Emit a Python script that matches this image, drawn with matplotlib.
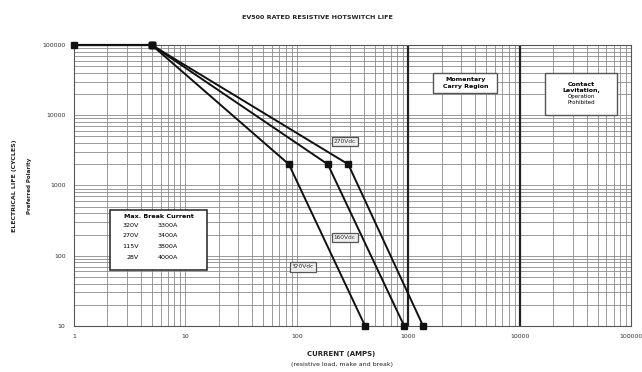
import matplotlib
matplotlib.use("Agg")
import matplotlib.pyplot as plt
from matplotlib.patches import Rectangle
from matplotlib.ticker import LogLocator, FixedLocator, NullFormatter

# data
flat_amps = [1, 5]
flat_cycles = [100000, 100000]

curve_names = ["320Vdc", "160Vdc", "270Vdc"]
curve_amps = [[5, 85, 410], [5, 190, 920], [5, 290, 1360]]
curve_cycles = [[100000, 2000, 10], [100000, 2000, 10], [100000, 2000, 10]]
label_pos = [(114, 69), (270, 184), (270, 4200)]

table_volts = ["320V", "270V", "115V", "28V"]
table_amps = ["3300A", "3400A", "3800A", "4000A"]

x_ticks = [1, 10, 100, 1000, 10000, 100000]
y_ticks = [10, 100, 1000, 10000, 100000]

fig = plt.figure(figsize=(6.42, 3.72), dpi=100)
ax = fig.add_axes([0.115, 0.124, 0.868, 0.755])
ax.set_xscale("log")
ax.set_yscale("log")
ax.set_xlim(1, 100000)
ax.set_ylim(10, 100000)

# grid
ax.xaxis.set_minor_locator(LogLocator(base=10, subs=range(2, 10)))
ax.yaxis.set_minor_locator(LogLocator(base=10, subs=range(2, 10)))
ax.xaxis.set_minor_formatter(NullFormatter())
ax.yaxis.set_minor_formatter(NullFormatter())
ax.grid(True, which="both", color="#8a8a8a", linewidth=0.6)
ax.set_axisbelow(True)
ax.axvline(1000, color="#222222", linewidth=1.6, zorder=1)
ax.axvline(10000, color="#222222", linewidth=1.6, zorder=1)
for s in ax.spines.values():
    s.set_color("#555555")
    s.set_linewidth(0.8)

ax.xaxis.set_major_locator(FixedLocator(x_ticks))
ax.yaxis.set_major_locator(FixedLocator(y_ticks))
ax.set_xticklabels([str(v) for v in x_ticks])
ax.set_yticklabels([str(v) for v in y_ticks])
ax.tick_params(which="both", length=0, labelsize=4.5, colors="#333333", pad=6)

# curves
ax.plot(flat_amps, flat_cycles, color="#111111", linewidth=1.6, marker="s", markersize=4.5,
        zorder=5, clip_on=False)
for name, xs, ys, pos in zip(curve_names, curve_amps, curve_cycles, label_pos):
    ax.plot(xs, ys, color="#111111", linewidth=1.4, marker="s", markersize=4, zorder=5, clip_on=False)
    ax.text(pos[0], pos[1], name, fontsize=4.2, ha="center", va="center", color="#333333", zorder=6,
            bbox=dict(boxstyle="square,pad=0.35", fc="#eeeeee", ec="#555555", lw=0.9))

# region boxes (axes fraction)
ax.add_patch(Rectangle((0.645, 0.829), 0.115, 0.071, transform=ax.transAxes, fc="white",
                       ec="#555555", lw=1.0, zorder=6))
ax.text(0.7025, 0.8645, "Momentary\nCarry Region", transform=ax.transAxes, fontsize=4.5,
        fontweight="bold", ha="center", va="center", linespacing=1.3, zorder=7)
ax.add_patch(Rectangle((0.846, 0.751), 0.129, 0.149, transform=ax.transAxes, fc="white",
                       ec="#555555", lw=1.0, zorder=6))
ax.text(0.9105, 0.830, "Contact\nLevitation,", transform=ax.transAxes, fontsize=4.5,
        fontweight="bold", ha="center", va="bottom", linespacing=1.3, zorder=7)
ax.text(0.9105, 0.826, "Operation\nProhibited", transform=ax.transAxes, fontsize=4.0,
        ha="center", va="top", linespacing=1.4, zorder=7)

# max break current table
ax.add_patch(Rectangle((0.065, 0.199), 0.174, 0.214, transform=ax.transAxes, fc="white",
                       ec="#222222", lw=1.1, zorder=6))
ax.text(0.152, 0.391, "Max. Break Current", transform=ax.transAxes, fontsize=4.6,
        fontweight="bold", ha="center", va="center", zorder=7)
row_y = [0.356, 0.320, 0.281, 0.242]
for v, a, yy in zip(table_volts, table_amps, row_y):
    ax.text(0.117, yy, v, transform=ax.transAxes, fontsize=4.6, ha="right", va="center", zorder=7)
    ax.text(0.151, yy, a, transform=ax.transAxes, fontsize=4.6, ha="left", va="center", zorder=7)

fig.text(0.495, 0.952, "EV500 RATED RESISTIVE HOTSWITCH LIFE",
         fontsize=4.6, fontweight="bold", ha="center", va="center", color="#222222")
fig.text(0.022, 0.5, "ELECTRICAL LIFE (CYCLES)", fontsize=4.5, fontweight="bold", rotation=90,
         ha="center", va="center", color="#222222")
fig.text(0.046, 0.5, "Preferred Polarity", fontsize=4.0, fontweight="bold", rotation=90,
         ha="center", va="center", color="#222222")
fig.text(0.532, 0.048, "CURRENT (AMPS)", fontsize=5, fontweight="bold", ha="center", va="center", color="#222222")
fig.text(0.532, 0.020, "(resistive load, make and break)", fontsize=4.5, ha="center", va="center", color="#222222")

fig.savefig("out.png", dpi=100)
